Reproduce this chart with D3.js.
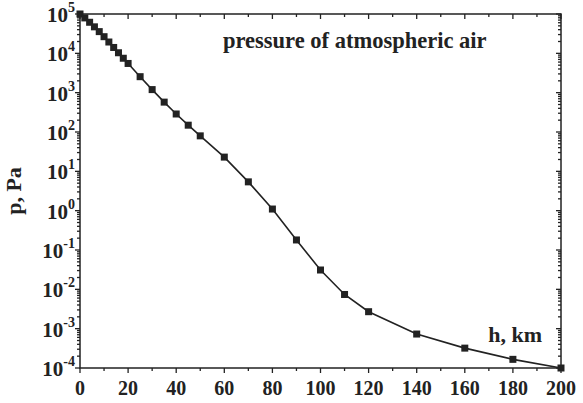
<!DOCTYPE html>
<html><head><meta charset="utf-8">
<script src="https://cdn.jsdelivr.net/npm/d3@7"></script>
<style>body{margin:0;background:#fff}svg{display:block}text{font-family:"Liberation Serif","Times New Roman",serif;font-weight:bold;fill:#222}</style>
</head><body>
<svg id="c" width="583" height="403"></svg>
<script>
const heights = [0,2,4,6,8,10,12,14,16,18,20,25,30,35,40,45,50,60,70,80,90,100,110,120,140,160,180,200];
const pressures = [100000,79500,61640,47180,35650,26500,19400,14100,10350,7500,5529,2549,1197,575,287,149,79.8,23,5.4,1.1,0.18,0.031,0.0074,0.0027,0.00073,0.00032,0.000166,0.0001];
const xTicks = [0,20,40,60,80,100,120,140,160,180,200];
const yExponents = [5,4,3,2,1,0,-1,-2,-3,-4];
const title = "pressure of atmospheric air";
const xLabel = "h, km";
const yLabel = "p, Pa";

const svg = d3.select("#c");
const L=80,R=561,T=14,B=368;
const x = d3.scaleLinear().domain([0,200]).range([L,R]);
const y = d3.scaleLog().domain([1e-4,1e5]).range([B,T]);
const col="#222";

const g = svg.append("g");
g.append("rect").attr("x",L).attr("y",T).attr("width",R-L).attr("height",B-T).attr("fill","none").attr("stroke",col).attr("stroke-width",1.5);

const xMinor = d3.range(10,200,20);
function tickLines(vals, len, side){
  vals.forEach(v=>{
    if(side==="bottom") g.append("line").attr("x1",x(v)).attr("x2",x(v)).attr("y1",B).attr("y2",B+len);
    if(side==="top") g.append("line").attr("x1",x(v)).attr("x2",x(v)).attr("y1",T).attr("y2",T+len);
    if(side==="left") g.append("line").attr("x1",L).attr("x2",L-len).attr("y1",y(v)).attr("y2",y(v));
    if(side==="right") g.append("line").attr("x1",R).attr("x2",R-len).attr("y1",y(v)).attr("y2",y(v));
  });
}
tickLines(xTicks,5,"bottom");tickLines(xMinor,3,"bottom");
tickLines(xTicks,5,"top");tickLines(xMinor,3,"top");
const yMajor = yExponents.map(e=>Math.pow(10,e));
const yMinor = [];
for(let e=-4;e<5;e++) for(let m=2;m<10;m++) yMinor.push(m*Math.pow(10,e));
tickLines(yMajor,5,"left");tickLines(yMinor,3,"left");
tickLines(yMajor,5,"right");tickLines(yMinor,3,"right");
g.selectAll("line").attr("stroke",col).attr("stroke-width",1.3);

g.selectAll(".xl").data(xTicks).enter().append("text").attr("class","xl")
  .attr("x",d=>x(d)).attr("y",395).attr("text-anchor","middle").attr("font-size",20).text(d=>d);

yExponents.forEach(e=>{
  const t = g.append("text").attr("x",75).attr("y",y(Math.pow(10,e))+8).attr("text-anchor","end").attr("font-size",21);
  t.append("tspan").text("10");
  t.append("tspan").attr("dy",-10).attr("font-size",14).text(e<0?"-"+(-e):String(e));
});

const line = d3.line().x((d,i)=>x(heights[i])).y(d=>y(d));
g.append("path").datum(pressures).attr("d",line).attr("fill","none").attr("stroke",col).attr("stroke-width",1.6);
g.selectAll(".m").data(pressures).enter().append("rect").attr("class","m")
  .attr("x",(d,i)=>x(heights[i])-3.5).attr("y",d=>y(d)-3.5).attr("width",7).attr("height",7).attr("fill",col);

svg.append("text").attr("x",223).attr("y",48).attr("font-size",22.5).text(title);
svg.append("text").attr("x",542).attr("y",342).attr("text-anchor","end").attr("font-size",22).text(xLabel);
svg.append("text").attr("transform","translate(21,191) rotate(-90)").attr("text-anchor","middle").attr("font-size",22).text(yLabel);
</script>
</body></html>
